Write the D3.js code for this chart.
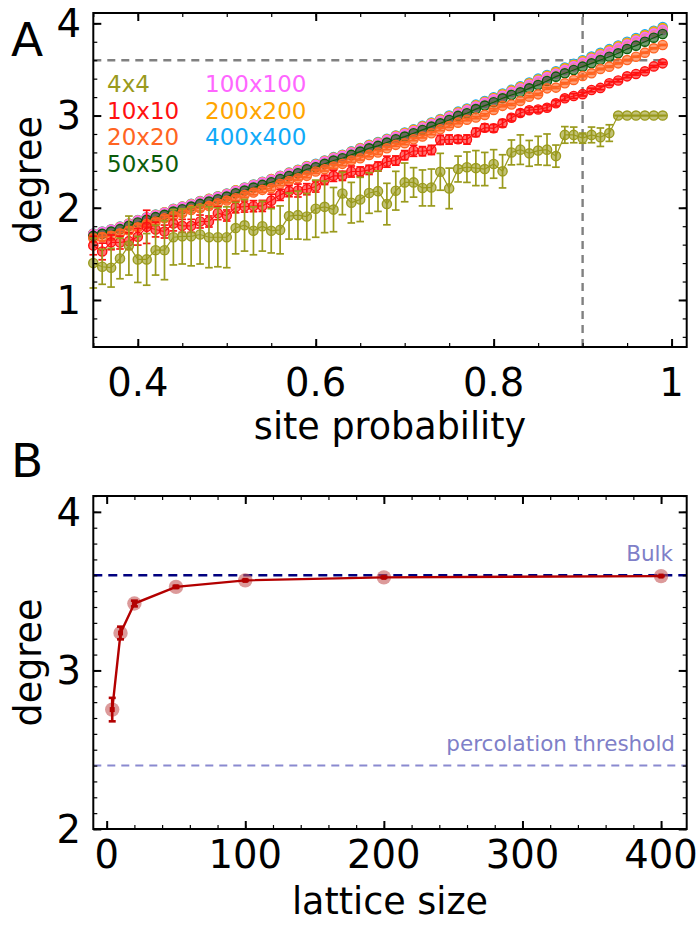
<!DOCTYPE html>
<html>
<head>
<meta charset="utf-8">
<script src="https://cdn.jsdelivr.net/npm/d3@7"></script>
<style>
  html, body { margin: 0; padding: 0; background: #fff; }
  svg { display: block; }
  text { font-family: "DejaVu Sans", sans-serif; }
</style>
</head>
<body>
<svg id="chart" width="698" height="925"></svg>
<script>
// ---------- Panel A: mean degree vs site occupation probability ----------
const siteProb = [0.35,0.36,0.37,0.38,0.39,0.40,0.41,0.42,0.43,0.44,0.45,0.46,0.47,0.48,0.49,
  0.50,0.51,0.52,0.53,0.54,0.55,0.56,0.57,0.58,0.59,0.60,0.61,0.62,0.63,0.64,0.65,0.66,0.67,
  0.68,0.69,0.70,0.71,0.72,0.73,0.74,0.75,0.76,0.77,0.78,0.79,0.80,0.81,0.82,0.83,0.84,0.85,
  0.86,0.87,0.88,0.89,0.90,0.91,0.92,0.93,0.94,0.95,0.96,0.97,0.98,0.99];

const lattice4 = [1.40,1.36,1.35,1.45,1.59,1.44,1.44,1.54,1.54,1.68,1.69,1.69,1.71,1.68,1.68,
  1.68,1.78,1.81,1.75,1.80,1.75,1.76,1.91,1.92,1.905,1.99,2.01,1.98,2.155,2.055,2.09,2.16,2.18,
  2.04,2.185,2.275,2.275,2.215,2.22,2.39,2.21,2.42,2.44,2.43,2.42,2.475,2.395,2.60,2.63,2.59,
  2.62,2.63,2.56,2.79,2.79,2.755,2.79,2.765,2.81,3.0,3.0,3.0,3.0,3.0,3.0];
const lattice4Err = [0.27,0.19,0.21,0.22,0.32,0.25,0.28,0.27,0.32,0.30,0.30,0.32,0.32,0.33,0.32,
  0.33,0.28,0.28,0.26,0.27,0.24,0.26,0.25,0.26,0.25,0.31,0.28,0.24,0.23,0.22,0.24,0.22,0.22,
  0.225,0.21,0.21,0.16,0.195,0.20,0.20,0.22,0.14,0.165,0.19,0.18,0.155,0.18,0.135,0.16,0.14,
  0.155,0.17,0.12,0.09,0.085,0.055,0.085,0.10,0.09,0,0,0,0,0,0];

const lattice10 = [1.59,1.526,1.625,1.623,1.638,1.685,1.793,1.764,1.742,1.829,1.804,1.804,1.851,
  1.851,1.941,1.916,2.005,2.013,2.017,2.020,2.077,2.14,2.18,2.187,2.201,2.23,2.302,2.346,2.346,
  2.393,2.393,2.411,2.447,2.50,2.512,2.57,2.618,2.613,2.627,2.736,2.74,2.743,2.74,2.817,2.868,
  2.862,2.916,2.976,3.028,3.058,3.066,3.085,3.133,3.187,3.212,3.232,3.277,3.30,3.35,3.38,3.425,
  3.451,3.48,3.533,3.566];
const lattice10Err = [0.10,0.09,0.08,0.07,0.09,0.09,0.18,0.08,0.07,0.08,0.07,0.07,0.07,0.06,0.07,
  0.06,0.06,0.06,0.06,0.06,0.07,0.06,0.06,0.07,0.06,0.06,0.05,0.06,0.05,0.06,0.05,0.05,0.05,
  0.06,0.05,0.05,0.06,0.05,0.05,0.05,0.05,0.04,0.05,0.045,0.04,0.04,0.04,0.035,0.035,0.03,0.03,
  0.03,0.03,0.025,0.025,0.02,0.02,0.02,0.02,0.015,0.015,0.012,0.012,0.01,0.01];

const lattice20 = [1.67,1.681,1.695,1.724,1.753,1.789,1.825,1.851,1.887,1.912,1.941,1.977,1.995,
  2.020,2.049,2.078,2.103,2.139,2.165,2.194,2.212,2.26,2.29,2.32,2.346,2.393,2.418,2.447,2.476,
  2.512,2.537,2.573,2.599,2.645,2.682,2.70,2.743,2.772,2.808,2.851,2.887,2.923,2.955,2.978,3.007,
  3.061,3.105,3.12,3.158,3.205,3.23,3.295,3.303,3.35,3.386,3.429,3.458,3.505,3.53,3.566,3.602,
  3.638,3.682,3.729,3.765];
const lattice20Err = [0.04,0.04,0.04,0.035,0.035,0.035,0.03,0.03,0.03,0.03,0.03,0.03,0.03,0.03,
  0.03,0.025,0.025,0.025,0.025,0.025,0.025,0.02,0.02,0.02,0.02,0.02,0.02,0.02,0.02,0.02,0.02,
  0.02,0.02,0.015,0.015,0.015,0.015,0.015,0.015,0.015,0.015,0.012,0.012,0.012,0.012,0.012,0.01,
  0.01,0.01,0.01,0.01,0.01,0.01,0.008,0.008,0.008,0.008,0.008,0.008,0.006,0.006,0.006,0.006,
  0.006,0.006];

const lattice50 = [1.695,1.717,1.742,1.768,1.804,1.840,1.869,1.898,1.923,1.959,1.984,2.013,2.042,
  2.067,2.093,2.121,2.158,2.186,2.219,2.248,2.277,2.312,2.345,2.375,2.418,2.440,2.476,2.512,2.537,
  2.573,2.609,2.645,2.671,2.707,2.743,2.772,2.808,2.844,2.880,2.916,2.952,2.996,3.025,3.070,3.108,
  3.144,3.187,3.223,3.252,3.295,3.332,3.375,3.422,3.458,3.494,3.530,3.566,3.602,3.638,3.675,3.722,
  3.758,3.801,3.844,3.884];

const lattice100 = [1.714,1.736,1.761,1.789,1.824,1.86,1.89,1.919,1.946,1.981,2.007,2.036,2.065,
  2.09,2.116,2.145,2.182,2.211,2.243,2.273,2.303,2.338,2.371,2.402,2.442,2.465,2.501,2.537,2.563,
  2.599,2.635,2.67,2.698,2.733,2.769,2.799,2.833,2.871,2.907,2.944,2.981,3.022,3.056,3.097,3.137,
  3.176,3.215,3.255,3.294,3.334,3.375,3.414,3.454,3.493,3.533,3.572,3.612,3.651,3.691,3.731,3.77,
  3.81,3.85,3.889,3.928];

const lattice200 = [1.718,1.74,1.765,1.793,1.828,1.864,1.894,1.923,1.95,1.986,2.012,2.041,2.07,
  2.096,2.122,2.151,2.188,2.217,2.25,2.28,2.31,2.345,2.378,2.409,2.449,2.472,2.508,2.545,2.571,
  2.607,2.644,2.679,2.707,2.743,2.779,2.81,2.845,2.882,2.919,2.956,2.993,3.035,3.069,3.11,3.15,
  3.19,3.23,3.27,3.31,3.35,3.391,3.431,3.471,3.511,3.551,3.59,3.63,3.67,3.71,3.75,3.79,3.83,
  3.87,3.91,3.948];

const lattice400 = [1.72,1.742,1.767,1.795,1.83,1.866,1.896,1.925,1.952,1.988,2.014,2.043,2.072,
  2.098,2.124,2.153,2.19,2.219,2.252,2.282,2.312,2.347,2.381,2.412,2.452,2.476,2.512,2.549,2.575,
  2.611,2.648,2.684,2.712,2.748,2.784,2.815,2.85,2.888,2.925,2.962,3.0,3.042,3.076,3.118,3.158,
  3.198,3.238,3.278,3.318,3.358,3.40,3.44,3.48,3.52,3.56,3.60,3.64,3.68,3.72,3.76,3.80,3.84,
  3.88,3.92,3.96];

const seriesNames = ["4x4","10x10","20x20","50x50","100x100","200x200","400x400"];
const seriesColors = ["#9a9a1c","#ff1010","#ff6422","#0c5c0c","#ff66ff","#ffa500","#10aaf8"];
const seriesValues = [lattice4, lattice10, lattice20, lattice50, lattice100, lattice200, lattice400];
const seriesErrors = [lattice4Err, lattice10Err, lattice20Err, null, null, null, null];

const bulkDegree = 3.6;
const bulkProb = 0.9;

const xTicksA = [0.4, 0.6, 0.8, 1];
const xTickLabelsA = ["0.4", "0.6", "0.8", "1"];
const yTicksA = [1, 2, 3, 4];

// ---------- Panel B: degree at p = 0.9 vs lattice size ----------
const latticeSize = [4, 10, 20, 50, 100, 200, 400];
const degreeAtBulk = [2.753, 3.236, 3.422, 3.527, 3.568, 3.587, 3.595];
const degreeAtBulkErr = [0.074, 0.04, 0.018, 0.006, 0.004, 0.003, 0.002];
const percolationDegree = 2.4;
const xTicksB = [0, 100, 200, 300, 400];
const yTicksB = [2, 3, 4];

// ---------- drawing ----------
const svg = d3.select("#chart");
const tickFont = 38.5, titleFont = 36.5, letterFont = 47;

const left = 93.3, right = 686.7;
const xA = d3.scaleLinear().domain([0.35, 1.017]).range([left, right]);
const yA = d3.scaleLinear().domain([0.49, 4.112]).range([347, 13]);
const xB = d3.scaleLinear().domain([-9.65, 418.5]).range([left, right]);
const yB = d3.scaleLinear().domain([2, 4.1]).range([829, 496]);

function range(a, b, step) {
  const out = [];
  for (let v = a; v <= b + 1e-9; v += step) out.push(+v.toFixed(4));
  return out;
}

function frameAxes(g, x, y, xMajor, xMinor, yMajor, yMinor) {
  const [x0, x1] = x.range();
  const [y1, y0] = y.range();
  const clean = sel => sel.call(s => s.select(".domain").remove());
  const axes = [
    [d3.axisBottom, y1, x, xMajor, xMinor, "h"],
    [d3.axisTop, y0, x, xMajor, xMinor, "h"],
    [d3.axisLeft, x0, y, yMajor, yMinor, "v"],
    [d3.axisRight, x1, y, yMajor, yMinor, "v"]
  ];
  axes.forEach(([fn, pos, sc, maj, min, dir]) => {
    const tr = dir === "h" ? `translate(0,${pos})` : `translate(${pos},0)`;
    g.append("g").attr("transform", tr)
      .call(fn(sc).tickValues(min).tickSize(-4).tickFormat(""))
      .call(clean).selectAll("line").attr("stroke", "#000").attr("stroke-width", 1.2);
    g.append("g").attr("transform", tr)
      .call(fn(sc).tickValues(maj).tickSize(-8).tickFormat(""))
      .call(clean).selectAll("line").attr("stroke", "#000").attr("stroke-width", 2);
  });
  g.append("rect").attr("x", x0).attr("y", y0)
    .attr("width", x1 - x0).attr("height", y1 - y0)
    .attr("fill", "none").attr("stroke", "#000").attr("stroke-width", 2);
}

function errorBars(g, xs, ys, es, x, y, color, width, cap) {
  const data = xs.map((d, i) => ({ x: d, y: ys[i], e: es[i] }));
  const eb = g.append("g").attr("stroke", color).attr("stroke-width", width);
  eb.selectAll("line.v").data(data).join("line").attr("class", "v")
    .attr("x1", d => x(d.x)).attr("x2", d => x(d.x))
    .attr("y1", d => y(d.y - d.e)).attr("y2", d => y(d.y + d.e));
  eb.selectAll("line.lo").data(data).join("line").attr("class", "lo")
    .attr("x1", d => x(d.x) - cap).attr("x2", d => x(d.x) + cap)
    .attr("y1", d => y(d.y - d.e)).attr("y2", d => y(d.y - d.e));
  eb.selectAll("line.hi").data(data).join("line").attr("class", "hi")
    .attr("x1", d => x(d.x) - cap).attr("x2", d => x(d.x) + cap)
    .attr("y1", d => y(d.y + d.e)).attr("y2", d => y(d.y + d.e));
}

// ----- Panel A -----
const gA = svg.append("g");

// reference lines: bulk degree and p = 0.9
gA.append("line")
  .attr("x1", xA(siteProb[0])).attr("x2", xA(siteProb[siteProb.length - 1]))
  .attr("y1", yA(bulkDegree)).attr("y2", yA(bulkDegree))
  .attr("stroke", "#808080").attr("stroke-width", 2.4).attr("stroke-dasharray", "8,6");
gA.append("line")
  .attr("x1", xA(bulkProb)).attr("x2", xA(bulkProb))
  .attr("y1", yA(0.49)).attr("y2", yA(4.112))
  .attr("stroke", "#808080").attr("stroke-width", 2.4).attr("stroke-dasharray", "8,6");

// series, largest lattice drawn first
const order = [6, 5, 4, 3, 2, 1, 0];
order.forEach(i => {
  const vals = seriesValues[i], col = seriesColors[i];
  const g = gA.append("g");
  g.append("path")
    .datum(vals)
    .attr("fill", "none").attr("stroke", col).attr("stroke-width", 1.2)
    .attr("d", d3.line().x((d, j) => xA(siteProb[j])).y(d => yA(d)));
  if (seriesErrors[i]) errorBars(g, siteProb, vals, seriesErrors[i], xA, yA, col, 1.7, 3.8);
  g.selectAll("circle").data(vals).join("circle")
    .attr("cx", (d, j) => xA(siteProb[j])).attr("cy", d => yA(d)).attr("r", 4.6)
    .attr("fill", col).attr("fill-opacity", 0.6)
    .attr("stroke", col).attr("stroke-width", 1.4);
});

frameAxes(gA, xA, yA, xTicksA, range(0.35, 1.0, 0.05), yTicksA, range(0.6, 4.0, 0.2));

gA.selectAll("text.xt").data(xTicksA).join("text").attr("class", "xt")
  .attr("x", d => xA(d)).attr("y", 396).attr("text-anchor", "middle")
  .attr("font-size", tickFont).text((d, i) => xTickLabelsA[i]);
gA.selectAll("text.yt").data(yTicksA).join("text").attr("class", "yt")
  .attr("x", 81).attr("y", d => yA(d)).attr("dy", "0.36em").attr("text-anchor", "end")
  .attr("font-size", tickFont).text(d => d);

gA.append("text").attr("x", (left + right) / 2).attr("y", 439)
  .attr("text-anchor", "middle").attr("font-size", titleFont).text("site probability");
gA.append("text").attr("transform", `translate(41,${yA(2.3)}) rotate(-90)`)
  .attr("text-anchor", "middle").attr("font-size", titleFont).text("degree");
gA.append("text").attr("x", 11).attr("y", 56).attr("font-size", letterFont).text("A");

// legend
const legendPos = [[107, 92], [107, 118.5], [107, 145], [107, 171.5], [205, 92], [205, 118.5], [205, 145]];
seriesNames.forEach((name, i) => {
  gA.append("text").attr("x", legendPos[i][0]).attr("y", legendPos[i][1])
    .attr("font-size", 23).attr("fill", seriesColors[i]).text(name);
});

// ----- Panel B -----
const gB = svg.append("g");

gB.append("line").attr("x1", left).attr("x2", right)
  .attr("y1", yB(bulkDegree)).attr("y2", yB(bulkDegree))
  .attr("stroke", "#00007f").attr("stroke-width", 2.6).attr("stroke-dasharray", "9,6");
gB.append("line").attr("x1", left).attr("x2", right)
  .attr("y1", yB(percolationDegree)).attr("y2", yB(percolationDegree))
  .attr("stroke", "#8a8ad0").attr("stroke-width", 2).attr("stroke-dasharray", "8,6");

gB.append("text").attr("x", 673).attr("y", yB(bulkDegree) - 14)
  .attr("text-anchor", "end").attr("font-size", 21.5).attr("fill", "#7f7fc8").text("Bulk");
gB.append("text").attr("x", 675).attr("y", yB(percolationDegree) - 15)
  .attr("text-anchor", "end").attr("font-size", 21.5).attr("fill", "#7f7fc8").text("percolation threshold");

gB.selectAll("circle").data(degreeAtBulk).join("circle")
  .attr("cx", (d, i) => xB(latticeSize[i])).attr("cy", d => yB(d)).attr("r", 7.2)
  .attr("fill", "#c45656").attr("fill-opacity", 0.6);
gB.append("path").datum(degreeAtBulk)
  .attr("fill", "none").attr("stroke", "#b30000").attr("stroke-width", 2.4)
  .attr("d", d3.line().x((d, i) => xB(latticeSize[i])).y(d => yB(d)));
errorBars(gB, latticeSize, degreeAtBulk, degreeAtBulkErr, xB, yB, "#b30000", 2.6, 3.5);
gB.selectAll("rect.pt").data(degreeAtBulk).join("rect").attr("class", "pt")
  .attr("x", (d, i) => xB(latticeSize[i]) - 2.5).attr("y", d => yB(d) - 2.5)
  .attr("width", 5).attr("height", 5).attr("fill", "#b30000");

frameAxes(gB, xB, yB, xTicksB, range(0, 400, 20), yTicksB, range(2, 4.1, 0.1));

gB.selectAll("text.xt").data(xTicksB).join("text").attr("class", "xt")
  .attr("x", d => xB(d)).attr("y", 868).attr("text-anchor", "middle")
  .attr("font-size", tickFont).text(d => d);
gB.selectAll("text.yt").data(yTicksB).join("text").attr("class", "yt")
  .attr("x", 81).attr("y", d => yB(d)).attr("dy", "0.36em").attr("text-anchor", "end")
  .attr("font-size", tickFont).text(d => d);

gB.append("text").attr("x", (left + right) / 2).attr("y", 914)
  .attr("text-anchor", "middle").attr("font-size", titleFont).text("lattice size");
gB.append("text").attr("transform", `translate(41,${yB(3.05)}) rotate(-90)`)
  .attr("text-anchor", "middle").attr("font-size", titleFont).text("degree");
gB.append("text").attr("x", 11).attr("y", 477).attr("font-size", letterFont).text("B");
</script>
</body>
</html>
